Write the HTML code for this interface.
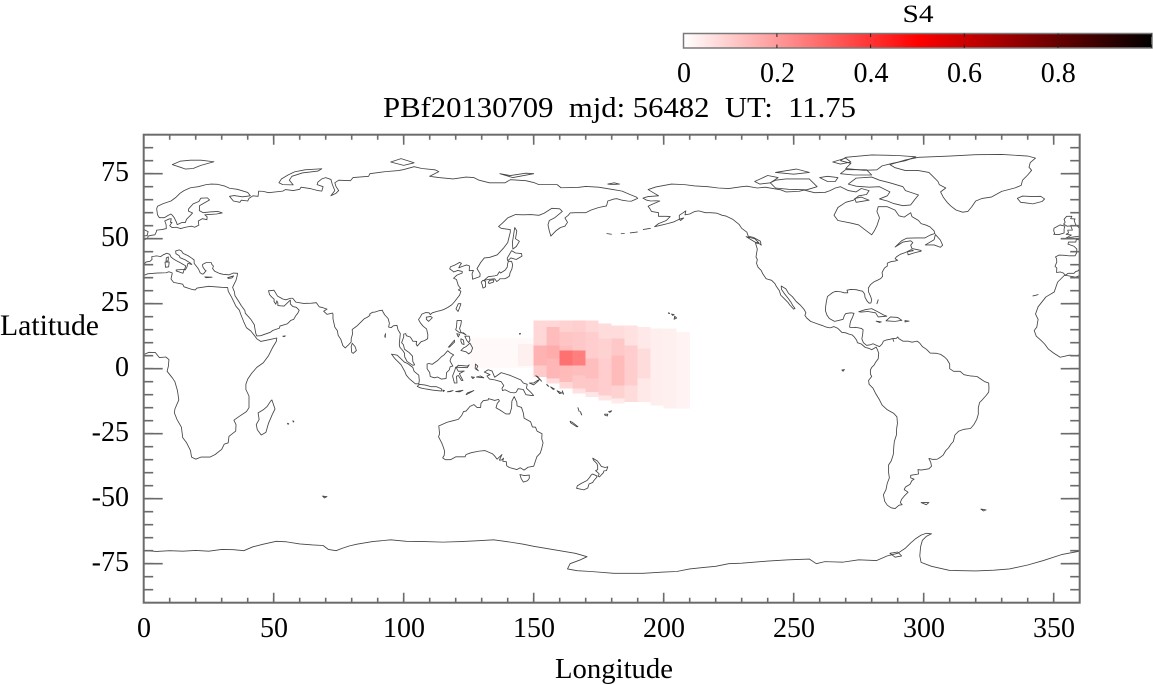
<!DOCTYPE html>
<html><head><meta charset="utf-8"><style>
html,body{margin:0;padding:0;background:#fff;}
svg{display:block;}
.m *{vector-effect:non-scaling-stroke;}
.cl polygon,.cl polyline{fill:none;stroke:#444;stroke-width:0.85;stroke-linejoin:round;}
text{font-family:"Liberation Serif",serif;fill:#000;}
</style></head><body>
<svg width="1153" height="685" viewBox="0 0 1153 685" xmlns="http://www.w3.org/2000/svg">
<defs>
<linearGradient id="cb" x1="0" x2="1" y1="0" y2="0">
<stop offset="0" stop-color="#ffffff"/><stop offset="0.5" stop-color="#ff0000"/><stop offset="1" stop-color="#000000"/>
</linearGradient>
</defs>
<rect width="1153" height="685" fill="#fff"/>
<text x="918" y="22" font-size="25" text-anchor="middle" textLength="31" lengthAdjust="spacingAndGlyphs">S4</text>
<rect x="683.5" y="33.5" width="468.5" height="14.5" fill="url(#cb)" stroke="#7a7a7a" stroke-width="1.5"/>
<line x1="776.4" y1="35.3" x2="1152" y2="35.3" stroke="#222" stroke-width="3.5" stroke-dasharray="1 92.7"/>
<line x1="776.4" y1="46.2" x2="1152" y2="46.2" stroke="#222" stroke-width="3.5" stroke-dasharray="1 92.7"/>
<g font-size="28" text-anchor="middle">
<text x="684" y="82">0</text><text x="777.5" y="82">0.2</text><text x="871" y="82">0.4</text><text x="964.5" y="82">0.6</text><text x="1058.3" y="82">0.8</text>
</g>
<text x="383" y="117" font-size="28" textLength="473" lengthAdjust="spacingAndGlyphs" xml:space="preserve">PBf20130709  mjd: 56482  UT:  11.75</text>
<g shape-rendering="crispEdges">
<rect x="470" y="338" width="64" height="30" fill="rgb(255,249,249)"/>
<rect x="518" y="344" width="16" height="22" fill="rgb(255,240,240)"/>
<rect x="533.3" y="320.3" width="13" height="25" fill="rgb(255,215,215)"/>
<rect x="533.3" y="345.3" width="13" height="20" fill="rgb(255,178,178)"/>
<rect x="533.3" y="365.3" width="13" height="11.7" fill="rgb(255,202,202)"/>
<rect x="546.3" y="320.3" width="13" height="6.7" fill="rgb(255,215,215)"/>
<rect x="546.3" y="327" width="13" height="18.3" fill="rgb(255,188,188)"/>
<rect x="546.3" y="345.3" width="13" height="13.4" fill="rgb(255,172,172)"/>
<rect x="546.3" y="358.7" width="13" height="20" fill="rgb(255,182,182)"/>
<rect x="546.3" y="378.7" width="13" height="5" fill="rgb(255,220,220)"/>
<rect x="559.3" y="320.3" width="13" height="11.7" fill="rgb(255,210,210)"/>
<rect x="559.3" y="332" width="13" height="13.3" fill="rgb(255,196,196)"/>
<rect x="559.3" y="345.3" width="13" height="5" fill="rgb(255,190,190)"/>
<rect x="559.3" y="350.3" width="13" height="15" fill="rgb(255,112,112)"/>
<rect x="559.3" y="365.3" width="13" height="16.7" fill="rgb(255,186,186)"/>
<rect x="559.3" y="382" width="13" height="6.7" fill="rgb(255,215,215)"/>
<rect x="572.3" y="320.3" width="13" height="11.7" fill="rgb(255,206,206)"/>
<rect x="572.3" y="332" width="13" height="18.3" fill="rgb(255,200,200)"/>
<rect x="572.3" y="350.3" width="13" height="15" fill="rgb(255,126,126)"/>
<rect x="572.3" y="365.3" width="13" height="10" fill="rgb(255,190,190)"/>
<rect x="572.3" y="375.3" width="13" height="13.4" fill="rgb(255,200,200)"/>
<rect x="572.3" y="388.7" width="13" height="5" fill="rgb(255,225,225)"/>
<rect x="585.3" y="320.3" width="13" height="11.7" fill="rgb(255,215,215)"/>
<rect x="585.3" y="332" width="13" height="26.7" fill="rgb(255,205,205)"/>
<rect x="585.3" y="358.7" width="13" height="20" fill="rgb(255,190,190)"/>
<rect x="585.3" y="378.7" width="13" height="13.3" fill="rgb(255,200,200)"/>
<rect x="585.3" y="392" width="13" height="5" fill="rgb(255,230,230)"/>
<rect x="598.3" y="323.7" width="13" height="15" fill="rgb(255,220,220)"/>
<rect x="598.3" y="338.7" width="13" height="20" fill="rgb(255,210,210)"/>
<rect x="598.3" y="358.7" width="13" height="36.6" fill="rgb(255,205,205)"/>
<rect x="598.3" y="395.3" width="13" height="5" fill="rgb(255,230,230)"/>
<rect x="611.3" y="325.3" width="13" height="13.4" fill="rgb(255,220,220)"/>
<rect x="611.3" y="338.7" width="13" height="16.6" fill="rgb(255,200,200)"/>
<rect x="611.3" y="355.3" width="13" height="30" fill="rgb(255,186,186)"/>
<rect x="611.3" y="385.3" width="13" height="13.4" fill="rgb(255,210,210)"/>
<rect x="611.3" y="398.7" width="13" height="5" fill="rgb(255,235,235)"/>
<rect x="624.3" y="325.3" width="13" height="20" fill="rgb(255,225,225)"/>
<rect x="624.3" y="345.3" width="13" height="40" fill="rgb(255,205,205)"/>
<rect x="624.3" y="385.3" width="13" height="16.7" fill="rgb(255,220,220)"/>
<rect x="637.3" y="327" width="13" height="21.7" fill="rgb(255,232,232)"/>
<rect x="637.3" y="348.7" width="13" height="30" fill="rgb(255,220,220)"/>
<rect x="637.3" y="378.7" width="13" height="23.3" fill="rgb(255,232,232)"/>
<rect x="650.3" y="328.7" width="13" height="76.6" fill="rgb(255,238,238)"/>
<rect x="663.3" y="328.7" width="13" height="80" fill="rgb(255,240,240)"/>
<rect x="676.3" y="332" width="13.7" height="76.7" fill="rgb(255,243,243)"/>
</g>
<svg class="m" x="143.7" y="134.7" width="936" height="468" viewBox="0 -90 360 180" preserveAspectRatio="none" overflow="hidden">
<g transform="scale(1,-1)">
<defs>
<g id="W" class="cl">
<polygon points="-6,35.8 -8.5,33.3 -9.8,29.5 -13,27.6 -16,23.8 -17,21 -16,19 -16.5,16 -17.5,14.7 -16.7,12.5 -15,11 -13.5,9.5 -12,7.5 -10,6 -7.5,4.4 -4,5.2 -1,5 2,6.3 4.5,6.2 6,4.3 8.5,4.5 9.7,3.5 9.5,1 9,-1 11,-3.5 12,-5 13,-8.5 13.5,-12 12,-15.5 11.8,-17 12.8,-19.5 14.5,-22.5 15,-26.5 16.5,-28.5 18,-31.5 18.4,-34 20,-34.8 22,-34 25.5,-34 27.5,-33 30,-31 31,-29 32.5,-28.5 32.8,-26 35.4,-24 35.5,-21.5 34.7,-19.8 36.5,-18.5 39.5,-16.5 40.5,-15 40.5,-10.5 39.3,-8 39.3,-6 40,-4 41.5,-1.8 43.5,0.5 46,2.3 48,5 49.5,8 51,10.5 51.2,11.8 48.5,11.2 45,10.5 43.5,11.5 42.8,12.5 41.2,14.5 39.5,15.8 38.5,18 37.3,21 36.8,22.5 35.5,24 33.8,27.5 32.5,29.8 32.3,31.2 30,31.3 25,31.7 20.5,31 19.8,30.3 18.5,30.5 15.5,31.5 15,32.5 11.5,33.2 10.5,34.5 11,36.8 9.7,37.3 8.6,36.9 5,36.8 1.5,36.5 -1.5,35.2 -5.3,35.9"/>
<polygon points="49.3,-12 50.5,-15.5 49.5,-17.5 48,-21 47,-24.5 45.2,-25.5 43.7,-23.5 43.3,-21.5 44.4,-19.5 44,-17 46,-15.8 47.5,-14.5 48.8,-12.5"/>
<polygon points="-5.6,36 -6.3,36.8 -7.4,37.2 -8.9,37 -8.8,38.7 -9.5,39.4 -8.8,41 -8.9,42.3 -9.3,43 -8,43.7 -5.8,43.6 -4,43.4 -1.8,43.4 -1.2,44.5 -1.1,46 -2.2,47.1 -4.5,47.9 -4.3,48.7 -1.5,48.7 -1.3,49.7 0.2,49.5 1.5,50.2 1.7,51 3,51.3 4.3,51.5 4.8,52.5 5,53.3 7,53.5 8.7,53.9 8.6,55.5 8.1,56.8 9.8,57.6 10.6,57.7 10.3,56.3 10.9,56.3 10,55 10.9,54.3 12.5,54.4 14.2,53.9 16.5,54.5 18.5,54.8 19.6,54.4 21.2,55.2 21,56.8 22.6,57.7 24.3,57.3 24.4,58.4 23.5,59.2 28,59.5 30.2,59.9 28.5,60.5 25.5,60.3 22.9,60 21.4,60.8 21.5,62.7 25.3,64.9 24.5,65.7 22,65.6 21.2,64.3 19,63.4 17.3,61.5 17.2,60.6 18.8,59.9 18,59 16.5,57.5 16,56.2 14.6,56.2 12.9,55.4 12.6,56.3 11.8,58 11,59 10.5,59.5 9.5,59 8,58.1 6,58.1 5.3,59.2 5,61.5 5.3,62.5 7.5,63.5 10.5,64.5 12.5,66 14,67.5 15.5,68.5 18,69.6 21,70 24,70.8 26,71 28.5,70.9 31,70.3 33,69.4 36,69 40,67.8 41,66.5 38,66.1 34.8,66.6 33,66.3 34.5,64.5 37,64 37.5,64.8 40,64.5 40.5,65.5 42,66.5 44,66.3 44.2,68.3 46,68.2 48,67.7 53.5,68.3 54.5,68.9 57.5,68.5 60,69 60.5,69.8 64,69.3 67,68.5 68.5,68.3 69,70 66.7,70.8 67,71.8 68.5,73 70,73.5 72,72.8 72.5,71 73.5,68.5 72,66.5 74,67.5 75,68.5 74,70 73.5,71.5 75,72.5 79.5,72.3 80.5,73.5 86.5,74 87,75 93,75.8 98,76.2 100,76.6 104,77.7 107,77 112,76.5 113.5,75.8 110,74 113.5,73.5 119,73 124,73.7 127,73.5 129,72.5 133,71.5 139,71.5 141,72.7 147,72.3 150,71.6 152,70.8 159,70.8 160.5,69.6 167,69.7 170,70.1 175,69.8 180,69 184,68.3 187,67 189.5,66 190,65.5 187.5,64.4 186,64.5 184,64.8 182,65.4 181,65.3 178.5,64.5 178,62.6 175,62 172,61 170,60 166,60 164,59.9 163.3,59 162,58 163,56.3 162,54.8 160.3,54.3 158.5,53 156.6,51 156,53 155.5,55.3 156,57 158,58 161,60.5 160,61.5 157,61.7 154,59.8 152,59 149,59.3 146,59.2 143,59.3 140,58 138,56 136.5,54.7 137.5,54 141,53.5 141,52.5 140,48.5 138.5,46.5 136,43.8 133,42.8 131,42.6 129.7,41 128.2,38.5 129.4,36.5 129.3,35.4 127,34.6 126.5,34.4 126.3,36.5 126.8,37.8 125.2,37.7 125.3,39.5 124.3,39.9 122.7,39.4 121.2,38.8 121.5,39.5 122.2,40.5 121.5,40.9 120.5,40.3 119.5,39.8 118,39.2 117.7,38.4 118.8,37.6 119.2,37.2 120.8,37.8 122.5,37.4 122.5,36.8 120.5,36 119.2,34.8 120.3,34.3 121,32 121.9,30.9 121,30.3 122,29.8 121.5,28.3 120.5,27 119.5,25.7 118.5,24.6 117,23.6 115.5,22.8 114,22.3 113,22.1 111,21.5 110.2,20.8 109.8,21.5 108.5,21.6 107,21 106.5,20.1 105.7,18.9 106.5,17.5 107.5,16.3 108.8,15.3 109.3,13 109.2,11.5 108,10.8 106.7,10.4 105.2,8.7 104.8,9.5 105,10.5 103.5,10.6 103,11.5 102.5,12.2 101,12.7 100.8,13.5 100,13.3 100,12.2 99.2,10 99.9,9.2 100.3,7.5 101.1,6.9 102.1,6.2 103.4,4.8 103.5,2.8 104.2,1.5 103.5,1.3 101.3,2.8 100.4,4.5 100.3,6 99.7,6.9 98.5,8.3 98.3,9.5 98.5,11.5 98.7,13.5 97.8,15 97.4,16.7 96,16.5 95.2,15.8 94.2,16 94.5,17.5 94,19.3 92.7,20.7 92,21.9 91.8,22.5 90.5,22.3 89,21.8 88,21.7 86.9,21 87,20.5 86,19.8 84.8,19.2 83.2,17.6 82.2,16.6 81.3,15.9 80.2,15.1 80.3,13.3 79.8,11.5 79.8,10.3 78.9,9.3 77.5,8 76.6,8.9 75.8,11.3 74.8,12.8 74.5,14.6 73.5,16 72.8,19.2 72.8,21 72.6,21.4 70.5,20.9 69.2,22.1 70.5,22.9 68.8,23.5 67.5,23.8 66.4,25.4 64.5,25.2 61.5,25.1 58.5,25.6 57.3,27.1 56.5,27.1 54.7,26.5 53.5,26.8 51.5,27.9 50.1,30.2 48.6,30 48,30 48.4,28.5 49.3,27.5 50.2,26.7 50.1,25.9 50.8,24.8 51.2,26.1 51.6,25.3 51.6,24.3 52.6,24.2 54,24.1 56,26 56.4,26.4 56.4,24.9 57.4,23.9 58.7,23.6 59.8,22.5 59.3,21.4 58.5,20.4 57.7,19 56.6,18.6 55.3,17.3 52.4,16.4 52.2,15.6 49.6,14.7 48.7,14 45,12.7 43.5,12.6 43.1,13.6 42.6,16.4 42.6,16.8 41.2,19 39.1,21.3 38.9,22.4 37.5,24.3 36.6,25.8 35.1,28.1 34.9,29.5 34.2,31.3 34.9,32.8 35.5,34 35.9,35.5 36.1,36.7 34.5,36.8 32.8,36.1 30.5,36.3 29,36.7 27.3,37.5 26.5,38.5 26.8,39.5 26.2,40.1 26,40.8 24,40.8 23,40.3 22.6,40 22.8,39 23.5,38 24,37.7 23,36.5 22.5,36.4 21.7,36.9 21.1,38.3 20.2,39.5 19.4,40.5 19.4,41.8 18.5,42.5 17,43.5 15.2,44.3 14.5,45.3 13.7,45.7 12.3,45.3 12.4,44.2 13.6,43.5 14,42.7 15.9,41.9 18,40.6 18.5,40.1 17,40.5 16.6,39 16,38 15.7,38.2 16.2,39.5 15.4,40 14,40.8 12.6,41.5 11.2,42.4 10.5,43 10,44 8.9,44.4 7.5,43.8 6.5,43.1 5,43.4 3.1,43.1 3.2,42 2.4,41.3 0.8,41 0,39.9 -0.3,39.3 0.2,38.7 -0.7,37.6 -1.5,37.4 -2.2,36.7 -4.4,36.7 -5.3,36.1"/>
<polygon points="-5.7,50 -3,50.6 1.3,51.2 1.7,52.7 0.3,53.4 -0.3,54.3 -1.6,55.5 -2.1,57 -1.8,57.6 -3.5,57.7 -3,58.6 -5,58.6 -6,57.5 -5.6,56.3 -6.2,55.6 -4.8,54.8 -3.4,54.9 -3.2,54.3 -2.8,53.3 -4.6,53.3 -4.3,52.2 -5.2,51.7 -3.2,51.4"/>
<polygon points="-6,52.2 -6,53.8 -5.7,54.8 -7.5,55.3 -8.5,54.8 -9.9,54 -10,53 -9.6,52 -10,51.7 -8,51.6"/>
<polygon points="-24,65.5 -22,66.4 -18,66.2 -15,66.3 -13.5,65.3 -14.5,64.3 -18,63.4 -21,63.8 -22.7,64"/>
<polygon points="12.5,38 15.6,38.2 15.1,36.7 12.5,37.6"/>
<polygon points="8.4,39 9.6,39.2 9.8,41 8.2,41"/>
<polygon points="8.6,41.4 9.4,41.4 9.5,43 8.7,42.6"/>
<polygon points="23.5,35.3 26.3,35.2 24,35"/>
<polygon points="32.3,35 34.6,35.7 33.9,34.9 32.5,34.7"/>
<polygon points="11,78.5 14,79.8 18,80.2 22,80.2 27,79.6 22,78.2 19,77 16,76.8 14,77.5"/>
<polygon points="52,71.5 53,73 55.5,74.5 58,75.7 62,76.5 68.5,76.9 67,76 61,75.3 57,74 56,72.5 57.5,70.7 53.5,70.8"/>
<polygon points="95,79.5 99,80.8 104,79.2 100,78.2"/>
<polygon points="137,75 141,74.3 147,75.2 150,75 142,73.5"/>
<polygon points="178.5,71 181,71.5 183,71 180,70.8"/>
<polygon points="79.8,8.5 80.2,9.8 81.3,8.5 81.8,7 80.6,5.9 80,6.3"/>
<polygon points="130.9,34 132.5,35.4 135,35.7 136,36 136.8,37.3 137.3,36.8 139,37.9 139.8,39 140,40.5 140.3,41.3 141.5,41.3 141.9,40 141.6,38.3 140.9,36.9 140.7,35.7 139.8,35 138.8,34.6 137,34.6 136.8,34.3 135.8,33.5 135,34.6 133,34.4"/>
<polygon points="129.8,33.3 130.5,34 131.5,33.5 131.5,31.5 130.5,31 130.2,32.3"/>
<polygon points="132.5,33 133,34 134.7,34.2 134.5,33.3 133,32.8"/>
<polygon points="140,41.5 139.8,42.5 141.5,45.4 143,44.5 145.3,44.3 145.5,43.3 143.3,42 141.2,42.6"/>
<polygon points="142,46 141.8,48.5 142.2,51 142.7,54.3 143.5,53 143,50 144.5,49 143.3,47"/>
<polygon points="120.1,23 120.9,22 121.5,23.5 122,25 121,25"/>
<polygon points="108.7,19 109.6,18.2 111,19.6 110.4,20.1 108.7,19.8"/>
<polygon points="120.3,16 120.5,18.5 122.2,18.5 122,17 121.5,15.5 122,14 124,13 123,13.8 121.5,13.8 120.6,14.5 120,15"/>
<polygon points="122,7 123,8 124,8.5 125.5,9.8 126.5,8 126,6.5 125,5.7 124,6.5"/>
<polygon points="123.5,12.5 125.2,12.5 125.5,11 125,10 124.2,11"/>
<polygon points="122,11.5 123,11 123.2,9.3 122.5,9.5 122,10.5"/>
<polygon points="117.2,8.3 119.5,11 119.6,10.3 117.6,8.3"/>
<polygon points="120.4,13.5 121.5,13.2 121,12.2"/>
<polygon points="109,1.8 109.7,2 111,1.7 113,3.1 114.5,4.6 115.5,5.3 116.9,6.9 118,6 119.2,5.3 118.3,4.4 117.8,3 118.9,1 117.9,0.8 117.5,-0.5 116.5,-1.5 116.3,-3.8 114.5,-4 113,-3.2 111.8,-3.5 110.2,-3 110,-1.5 109,0"/>
<polygon points="95.3,5.6 97.5,5.2 100.3,2.5 101.5,2 103.5,0.5 104,-1 105.8,-2.5 106,-4.5 105.8,-5.8 104.5,-5.8 102.3,-4 101,-2.5 100.4,-1 99,1.5 98,2.5 96.5,4"/>
<polygon points="105.2,-6.8 106,-6 108.3,-6.3 110.5,-6.9 112.5,-6.9 114.5,-7.7 114.5,-8.6 111,-8.2 108.5,-7.8 106.5,-7.4"/>
<polygon points="115,-8.2 115.7,-8.4 115.2,-8.8"/>
<polygon points="116.8,-8.9 119,-8.4 118,-8.8"/>
<polygon points="120,-8.8 122.8,-8.3 121.5,-8.9"/>
<polygon points="124,-10 124.5,-9.3 127,-8.4 125,-9.5"/>
<polygon points="119.5,-5.5 120.5,-5.5 120.3,-2.9 121,-2.6 122.2,-4.5 122.8,-4.5 121.4,-1.9 123.3,-0.9 121,-1 120.2,0.5 121,1.3 124.5,1 125.2,1.5 124.5,0.4 120,0.6 119.7,-0.5 118.8,-2.8"/>
<polygon points="128,-3.2 130.8,-3.5 129.5,-2.8"/>
<polygon points="126,-3.1 127.2,-3.3 126.6,-3.8"/>
<polygon points="127.6,1.8 128.5,1 128,0 128.7,-0.8 127.5,0"/>
<polygon points="131,-1.3 132.5,-0.4 134,-0.9 135,-3.3 137.5,-1.5 141,-2.6 145,-4.3 146,-5.5 147.5,-6 147.2,-7.5 148.8,-9 150,-10.3 149,-10.3 147,-10 146,-8 144,-7.7 143.3,-9 142.5,-9.3 141,-9.1 139,-8.1 138,-8.4 137.8,-7.5 138.5,-6.5 137.5,-5 135,-4.3 133,-4 132,-2.8 133.2,-2.3 131.5,-1.5"/>
<polygon points="148.3,-5.5 150,-5.5 151.5,-4.5 152.2,-4.2 151.5,-5 150,-6.2"/>
<polygon points="150.8,-2.7 152.8,-4.5 153,-4.8 151.5,-3"/>
<polygon points="155,-6 155.8,-6.8 155.3,-6.5"/>
<polygon points="156.5,-7 158,-7.8 157.5,-8"/>
<polygon points="159,-8.5 160.8,-9.3 160,-9.6"/>
<polygon points="161,-8.5 161.5,-9.8 161.2,-9.5"/>
<polygon points="167,-15 167.5,-16.5 167.2,-15.5"/>
<polygon points="168,-16.5 168.5,-17.8 168.2,-17.3"/>
<polygon points="164,-20.2 165,-20.7 167,-22.3 166.5,-22.3 164.2,-20.8"/>
<polygon points="177.3,-17.5 178.5,-17.5 178.3,-18.2 177.3,-17.8"/>
<polygon points="178.8,-16.5 180,-16.2 179.3,-16.8"/>
<polygon points="92.7,12.5 93,13.5 92.9,12"/>
<polygon points="53.5,12.5 54.5,12.6 54,12.3"/>
<polygon points="55.3,-21 55.8,-21.2 55.5,-21.4"/>
<polygon points="57.4,-20 57.8,-20.4 57.5,-20.5"/>
<polygon points="68.8,-49 70.5,-49.2 69.5,-49.7"/>
<polygon points="144.5,13.5 144.9,13.6 144.7,13.2"/>
<polygon points="113.5,-22 114,-21.8 116.7,-20.6 119,-20 121,-19.5 122.3,-18 123,-16.5 124,-16.3 125.5,-14.5 127,-13.8 128.2,-14.9 129.6,-14.9 129.7,-13.4 130.6,-12.3 132.5,-12 132.6,-11.5 135,-12.2 136.5,-11.8 136.8,-12.4 136,-13.3 135.5,-15 137,-15.9 139.3,-17.4 140.8,-17.4 141.5,-15 141.6,-12.5 142.5,-10.7 143.5,-12.9 143.6,-14.3 145.3,-14.9 146,-17 146.3,-19 148.8,-20.4 149.5,-22.4 150.7,-22.5 151.3,-24 153.2,-25 153.1,-27 153.6,-28.5 153,-31 152.5,-32.5 151.2,-33.9 150,-37.5 147.8,-37.9 146.3,-39 144.8,-38.1 143.5,-38.8 140.6,-38 139.6,-37.3 139.5,-35.8 138.1,-35.6 138.4,-34.4 137.7,-35.1 136.8,-35.2 137.8,-33 137,-33.8 135.9,-34.8 135,-33.6 134.1,-32.7 131.3,-31.5 129,-31.7 126,-32.3 124,-33 123.6,-33.9 120,-33.9 118,-35 116,-35 115,-34.3 115.6,-33.3 115.7,-31.6 115,-29.5 114.6,-28.5 113.4,-26.2 113.8,-25"/>
<polygon points="144.7,-40.7 146.3,-41.1 148.3,-40.9 148.3,-42.2 147.6,-43.1 146,-43.6 145.2,-42.3"/>
<polygon points="172.7,-34.4 174.5,-35.5 175.5,-36.8 176,-37.6 177.5,-38 178.5,-37.7 178,-39.2 177,-39.3 176.8,-40 175.3,-41.6 174.7,-41.3 175.2,-40.5 174.6,-39.9 173.8,-39.2 174.6,-38.8 174.6,-37.3 174.3,-36.5 173,-35.2"/>
<polygon points="172.7,-40.5 174.2,-41.2 174.3,-41.7 173,-43.2 172.7,-43.8 171.3,-44.3 170.8,-45.9 169.3,-46.6 166.5,-46 166.8,-45 168.5,-44 170.5,-43 171.5,-41.8 172.1,-40.9"/>
<polygon points="-168,65.6 -166,66.2 -162,66.5 -164,67.7 -166,68.9 -163,69.9 -157,71 -152,70.8 -148,70.3 -143,70 -139,69.5 -135,69.3 -130,70 -128,70.2 -124,69.5 -121,69.8 -115,68.8 -113,68 -108,68.2 -106,68.7 -102,67.7 -98,67.8 -96,68.5 -94,69.5 -92,70 -89,68.5 -86,68 -84,69.3 -81,68.5 -82,67 -85,66.5 -87,64.8 -90,64 -93,62 -94.5,59 -93,57 -88,56 -85,55.3 -82,53 -80,51.5 -79,53 -78,55 -77,58 -78,60.5 -77.5,62.3 -74,62.3 -71,61 -69.5,58.8 -67.5,58.3 -65,60 -64.5,58.5 -62,57 -61,55.8 -59,55.2 -57.5,54.5 -56,53 -55.7,52 -57.5,51.4 -59.5,50.3 -63,50.3 -66.5,50.2 -68.5,49.2 -71,46.8 -68,48.7 -65,49.2 -64.2,48.5 -65,47.5 -64.5,46.2 -61,45.5 -61,45.2 -63.5,44.6 -66,43.8 -66.2,45 -64,45.4 -64.8,45.8 -67,44.7 -69,44 -70.5,43 -71,42.3 -70,41.7 -71,41.4 -72.5,41.2 -74,40.6 -74,39.5 -75,38.8 -75.5,38 -76,37 -75.8,35.5 -76.5,34.7 -77.8,34 -79,33.5 -80.5,32.3 -81.3,31 -81.2,29.5 -80.5,28 -80,26.5 -80.3,25.3 -81,25.2 -81.7,25.9 -82.6,27.5 -82.7,28.7 -83.5,29.8 -84.5,30 -86,30.4 -88,30.5 -89.5,30.2 -89.2,29.2 -90.5,29.2 -92,29.6 -94,29.7 -95,29.3 -97,27.8 -97.4,26 -97.7,24 -97.8,22.3 -97.2,20.6 -96.3,19.3 -95,18.6 -94.3,18.2 -92.5,18.6 -91,19 -90.5,20.5 -90,21.2 -88,21.5 -86.8,21.3 -87.5,19.5 -88,18.5 -88.3,17.5 -88.5,16 -87.8,15.8 -86,15.9 -84,15.5 -83.3,15 -83.5,13 -83.8,11.5 -83.2,10 -82,9 -80.5,9.2 -79.5,9.6 -77.5,8.7 -77,8.5 -76,9.5 -75.5,10.6 -74.5,11 -73,11.3 -71.9,11.6 -71.5,10.5 -71.9,11.6 -70.5,11.7 -70,12.2 -69.5,11.5 -68,10.6 -66,10.6 -64.5,10.2 -62.5,10.6 -61.5,9.8 -60.5,8.5 -59,7.5 -57.5,6 -55,5.9 -53.5,5.5 -52,4.5 -51,3.5 -50,1.8 -50,0 -48.5,-1 -46,-1 -44.5,-2.3 -42,-2.8 -39.5,-3 -38,-4 -36.5,-5 -35,-5.5 -34.9,-7.5 -35,-9 -36,-10.3 -37.5,-12 -38.5,-13 -39,-15 -39,-17.5 -39.6,-19.5 -40.7,-21.5 -42,-23 -44.5,-23.3 -46.5,-24 -48,-25.5 -48.6,-28 -49.5,-29 -50.5,-30.5 -51.5,-31.5 -52.5,-33.2 -53.5,-34 -54.8,-34.8 -56.5,-34.9 -58,-34.5 -57.3,-36 -57,-37.5 -58,-38.5 -61,-39 -62.2,-38.8 -62,-40.5 -65,-41 -65,-42 -63.7,-42.5 -64.5,-43 -65.3,-44.5 -67,-45.5 -67.5,-46.5 -66,-47.5 -67.5,-49 -68.5,-50.2 -69,-51.5 -68.3,-52.3 -69.5,-52.5 -71,-53.8 -72.5,-53.5 -74,-52.5 -75,-51 -75.5,-48.5 -74.5,-46.5 -74,-44 -73.2,-42 -73.5,-40 -73.5,-37 -72.5,-35.5 -71.7,-33 -71.5,-30 -71.3,-28 -70.5,-25.5 -70.4,-23 -70.1,-21 -70.3,-18.5 -71.5,-17.2 -74,-15.8 -76,-14 -77,-12 -78.5,-9.5 -79.5,-7.5 -81,-6 -81.2,-4.5 -80,-3 -80.5,-2 -80.5,-0.5 -80,0.5 -79,1.5 -78.5,2.5 -77.5,3.8 -77.3,6 -77.8,7.3 -78.3,8.3 -80,7.3 -81,7.8 -82.5,8.2 -84,9.5 -85.5,10 -85.8,11 -86.7,12.2 -87.5,13 -88.5,13.2 -90,13.8 -91.5,14 -93,15.5 -94.5,16.2 -96,15.7 -97.5,16 -99,16.6 -101,17.3 -103.5,18.2 -105,19.5 -105.7,20.5 -105.3,21.5 -106,22.8 -107.5,24.5 -109,25.8 -110.5,27.7 -112,29 -113,30.7 -114.8,31.8 -114.7,30.5 -113.5,28.8 -112.3,27.3 -111,25.5 -110.3,24.2 -109.5,23.2 -110,22.9 -111.5,24.5 -112.2,25.5 -114,27.3 -115,28.3 -115.5,30 -116.7,31.7 -117.2,32.7 -118.5,34 -120.6,34.6 -121.9,36.5 -122.5,37.8 -123.7,39 -124.3,40.5 -124,42 -124.5,43 -124,46 -124.7,48.4 -123,48 -122.5,47.5 -122.8,49 -124,49.7 -125.5,50.5 -127.5,51 -128,52.5 -130,54 -131,55.5 -133.5,57.5 -136,58.7 -137.5,59 -139.5,59.8 -142,60 -144,60 -146.5,60.7 -148,60.5 -150,59.5 -151.8,59.2 -151.5,60.7 -152.5,60 -154,59 -154,57.5 -156,56.5 -158.5,55.8 -161,55.2 -163.5,54.6 -162,55.8 -159,57 -157.5,58.5 -159,58.6 -162,58.6 -162,60 -164.7,60.5 -165.3,61.5 -166,62.5 -164.5,63.2 -161.5,64.5 -163,64.6 -165,64.5 -166.5,64.8"/>
<polygon points="-73,78.5 -67,80.3 -62,81.3 -50,81.8 -40,82.3 -30,82.4 -20,81.8 -17,81 -19,79.3 -19.5,77.5 -18.5,76.3 -20,74.5 -22,72.5 -22.5,70.5 -25,69.5 -30,68.2 -34,66 -37.5,65.5 -40,64.5 -41.5,62.3 -43,60.5 -45,60.2 -47.5,61 -49.5,62.5 -51,64 -52.5,66 -53.5,68 -51.5,69.5 -54,70.8 -54.5,72 -56,73.5 -58,75.5 -62,76.2 -67,76.2 -71,77.3"/>
<polygon points="-80,73.7 -77,72.5 -73,71.5 -68,70 -67,68.5 -62,66.8 -63.5,65 -65,63 -68,62.7 -71.5,63.5 -74,64.5 -77,65.3 -74,66.5 -73,68 -77,70 -81,69.8 -86,70.2 -89,71 -86,73.3"/>
<polygon points="-90,77 -83,76.3 -78,76.5 -76,78 -72,79 -67,80 -63,81.5 -70,82 -80,82.2 -90,81.3 -92,80 -88,79"/>
<polygon points="-80,74.5 -87,74.5 -92,75 -90,76.6 -82,76.5"/>
<polygon points="-117,72.5 -113,73 -104,73 -101,70 -105,68.8 -112,69 -117,69.5 -119,71.5"/>
<polygon points="-125,72 -120,74.3 -116,73.5 -119,71.5 -123,71"/>
<polygon points="-97,72 -100,73.5 -97,74 -93,73.5 -94,72"/>
<polygon points="-117,75.5 -109,76.8 -104,75.5 -110,74.8"/>
<polygon points="-95,79.5 -90,81 -88,79.5 -92,78.7"/>
<polygon points="-86,64 -81,64.8 -84,66 -86.5,65.5"/>
<polygon points="-59.4,47.6 -56,49.6 -55.5,51.6 -53.6,49.5 -52.7,47.5 -53.6,46.7 -56,47.6"/>
<polygon points="-128.3,50.8 -125,50 -123.4,48.4 -124.7,48.6 -127,50"/>
<polygon points="-154,57.5 -152.3,58 -153.5,57"/>
<polygon points="-85,21.9 -82.5,22.7 -80,23.1 -77.5,21.8 -75.5,20.7 -74.2,20.2 -77.5,19.9 -78.5,21.5 -81.5,22 -84,21.8"/>
<polygon points="-74.5,18.4 -72.8,19.9 -70,19.7 -68.4,18.6 -71,18.2"/>
<polygon points="-78.3,18.3 -76.3,18 -77,17.8"/>
<polygon points="-67.2,18.5 -65.6,18.3 -67.2,18"/>
<polygon points="-78,25 -77.5,26.5 -77.8,25.5"/>
<polygon points="-156,19 -155,19.5 -155.8,20.2"/>
<polygon points="-157,21 -156,20.8 -156.5,20.5"/>
<polygon points="-158.2,21.5 -157.7,21.3 -158,21.2"/>
<polygon points="-91.5,-0.5 -90.5,-0.3 -91,-1"/>
<polygon points="-61,-51.5 -58,-51.5 -59,-52.3"/>
<polygon points="-38,-54 -36,-54.3 -37,-54.7"/>
<polygon points="-18,28 -16,28.5 -17,28.2"/>
<polyline points="-173,52.2 -170,52.6"/>
<polyline points="-168,53.5 -165,54"/>
<polyline points="178,52 180,51.7"/>
<polyline points="-176.5,51.9 -175,52"/>
</g>
</defs>
<use href="#W"/>
<use href="#W" transform="translate(360,0)"/>
<g class="cl">
<polyline points="0,-70 5,-70.3 10,-70 15,-70.2 20,-69.9 25,-70.2 30,-69.5 34.6,-69.6 38.5,-70 42,-68.5 46,-67.5 51,-66.4 55,-66.6 60,-67.4 65,-67.8 69,-68 71,-69.5 74,-70 76,-69.2 79,-68.2 82,-67.5 88,-66.5 95,-65.8 101,-66.4 108,-66.5 115,-66.7 122,-66.5 128,-66.2 134.6,-65.8 141,-66.7 146,-67.5 150,-68.3 154,-69 160,-70 166,-71 170.5,-72.3 168,-73.5 164,-75 163,-77 166.7,-77.7 172,-78 180.8,-78.7 192,-78.7 200,-78.2 205,-78 210,-77 215,-76.5 220,-76 225,-75 230,-74.8 240,-74 248,-73.5 256,-73.2 258.7,-75 262,-74.2 269,-74.4 275,-73.5 281.8,-73.8 286,-72 290,-71 293,-69 295,-67 297,-65.3 299,-64 301,-63.3 303,-63.5 301,-64.5 299.5,-66 298.8,-68.5 298.5,-72 299,-74.5 303,-76 310,-77.6 320,-77.8 327,-77.5 333,-77 340,-75.5 346,-73.8 353,-71.5 360,-70.2"/>
<polygon points="287,-71 290,-70.5 291.5,-72 289,-72.5"/>
</g>
</g>
</svg>
<g stroke="#6b6b6b" fill="none">
<line x1="148.45" y1="146.9" x2="148.45" y2="590.6" stroke-width="9.5" stroke-dasharray="1.6 11.4"/>
<line x1="153.2" y1="172.9" x2="153.2" y2="564.6" stroke-width="19" stroke-dasharray="1.6 63.4"/>
<line x1="1074.95" y1="146.9" x2="1074.95" y2="590.6" stroke-width="9.5" stroke-dasharray="1.6 11.4"/>
<line x1="1070.2" y1="172.9" x2="1070.2" y2="564.6" stroke-width="19" stroke-dasharray="1.6 63.4"/>
<line x1="168.9" y1="600.2" x2="1054.6" y2="600.2" stroke-width="5" stroke-dasharray="1.6 24.4"/>
<line x1="272.9" y1="597.7" x2="1054.6" y2="597.7" stroke-width="10" stroke-dasharray="1.6 128.4"/>
<line x1="168.9" y1="137.2" x2="1054.6" y2="137.2" stroke-width="5" stroke-dasharray="1.6 24.4"/>
<line x1="272.9" y1="139.7" x2="1054.6" y2="139.7" stroke-width="10" stroke-dasharray="1.6 128.4"/>
</g>
<rect x="143.7" y="134.7" width="936" height="468" fill="none" stroke="#6b6b6b" stroke-width="2"/>
<g font-size="28" text-anchor="middle">
<text x="144" y="637">0</text><text x="274" y="637">50</text><text x="404" y="637">100</text><text x="534" y="637">150</text><text x="664" y="637">200</text><text x="794" y="637">250</text><text x="924" y="637">300</text><text x="1054" y="637">350</text>
</g>
<g font-size="28" text-anchor="end">
<text x="129" y="181">75</text><text x="129" y="246">50</text><text x="129" y="311">25</text><text x="129" y="376">0</text><text x="129" y="441">-25</text><text x="129" y="506">-50</text><text x="129" y="571">-75</text>
</g>
<text x="0" y="335" font-size="30" textLength="99" lengthAdjust="spacingAndGlyphs">Latitude</text>
<text x="555" y="678" font-size="29" textLength="118" lengthAdjust="spacingAndGlyphs">Longitude</text>
</svg>
</body></html>
